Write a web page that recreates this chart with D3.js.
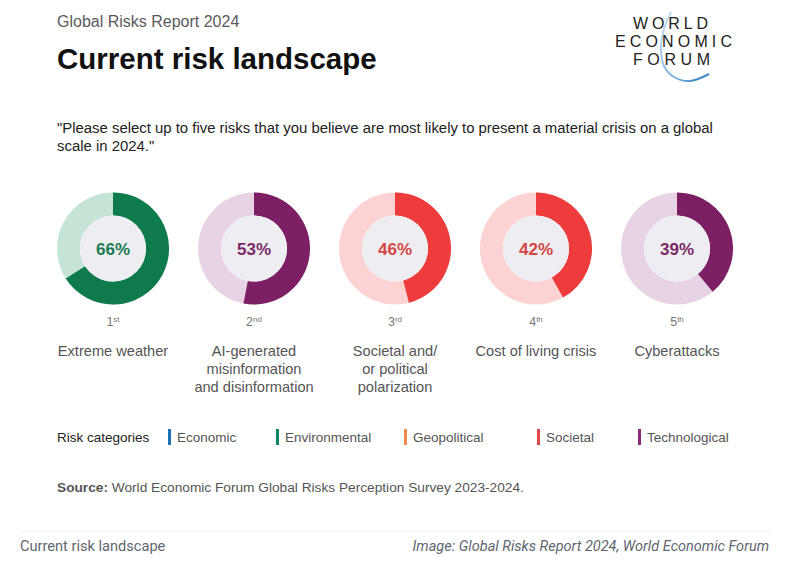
<!DOCTYPE html>
<html>
<head>
<meta charset="utf-8">
<script src="https://cdn.jsdelivr.net/npm/d3@7"></script>
<style>
  html, body { margin: 0; padding: 0; background: #ffffff; }
  svg { display: block; }
</style>
</head>
<body>
<svg id="chart" width="789" height="571"></svg>
<script>
// ---------- data ----------
const riskRanks = [1, 2, 3, 4, 5];
const rankSuffixes = ["st", "nd", "rd", "th", "th"];
const riskValues = [66, 53, 46, 42, 39];
const riskLabels = [
  ["Extreme weather"],
  ["AI-generated", "misinformation", "and disinformation"],
  ["Societal and/", "or political", "polarization"],
  ["Cost of living crisis"],
  ["Cyberattacks"]
];
const riskCategoryOf = ["Environmental", "Technological", "Societal", "Societal", "Technological"];
const legendCategories = ["Economic", "Environmental", "Geopolitical", "Societal", "Technological"];

// ---------- styles ----------
const catColor = {
  Economic: "#1b73b3",
  Environmental: "#0f7a4c",
  Geopolitical: "#ee8a4c",
  Societal: "#ee3b3b",
  Technological: "#7d1f64"
};
const catLight = {
  Environmental: "#c6e4d6",
  Societal: "#fdd2d2",
  Technological: "#e8d3e5"
};
const catText = {
  Environmental: "#1a7a52",
  Societal: "#d44545",
  Technological: "#7a2866"
};
const legendBarColor = {
  Economic: "#1b73b3",
  Environmental: "#138463",
  Geopolitical: "#ee8a4c",
  Societal: "#e0484a",
  Technological: "#8a2a78"
};

const FONT = "'Liberation Sans', Arial, Helvetica, sans-serif";
const svg = d3.select("#chart");

// ---------- header ----------
svg.append("text").attr("x", 57).attr("y", 27)
  .attr("font-family", FONT).attr("font-size", 16).attr("fill", "#5a5a5a")
  .text("Global Risks Report 2024");
svg.append("text").attr("x", 57).attr("y", 69)
  .attr("font-family", FONT).attr("font-size", 29.5).attr("font-weight", "bold").attr("fill", "#111")
  .text("Current risk landscape");

// ---------- WEF logo ----------
const logo = svg.append("g");
const grad = svg.append("defs").append("linearGradient")
  .attr("id", "arcGrad").attr("x1", "0").attr("y1", "0").attr("x2", "1").attr("y2", "1");
grad.append("stop").attr("offset", "0%").attr("stop-color", "#cfe3f3");
grad.append("stop").attr("offset", "60%").attr("stop-color", "#7fb3de");
grad.append("stop").attr("offset", "100%").attr("stop-color", "#2f7fc4");
const arcPts = [[671, 12], [664, 29], [661, 48], [664, 66], [674, 77], [690, 81], [709, 74]];
logo.append("path")
  .attr("d", d3.line().curve(d3.curveCatmullRom)(arcPts))
  .attr("fill", "none").attr("stroke", "url(#arcGrad)").attr("stroke-width", 2);
const logoLines = [["WORLD", 670.5, 29, 75], ["ECONOMIC", 673.5, 47, 117], ["FORUM", 671.5, 65, 77]];
logo.selectAll("text.logo").data(logoLines).join("text")
  .attr("class", "logo")
  .attr("x", d => d[1] - d[3] / 2).attr("y", d => d[2])
  .attr("textLength", d => d[3]).attr("lengthAdjust", "spacing")
  .attr("font-family", FONT).attr("font-size", 16)
  .attr("fill", "#222")
  .text(d => d[0]);

// ---------- question ----------
const question = [
  "\"Please select up to five risks that you believe are most likely to present a material crisis on a global",
  "scale in 2024.\""
];
svg.append("g").selectAll("text").data(question).join("text")
  .attr("x", 57).attr("y", (d, i) => 133 + i * 18)
  .attr("font-family", FONT).attr("font-size", 14.9).attr("fill", "#222")
  .text(d => d);

// ---------- donuts ----------
const x = d3.scalePoint().domain(riskRanks).range([113, 677]);
const angle = d3.scaleLinear().domain([0, 100]).range([0, 2 * Math.PI]);
const cy = 248.5, rOuter = 56, rInner = 33;
const arc = d3.arc().innerRadius(rInner).outerRadius(rOuter);

const donuts = svg.append("g").selectAll("g.donut")
  .data(riskRanks.map((r, i) => ({ rank: r, value: riskValues[i], cat: riskCategoryOf[i], label: riskLabels[i], suf: rankSuffixes[i] })))
  .join("g").attr("class", "donut")
  .attr("transform", d => `translate(${x(d.rank)},${cy})`);

donuts.append("path")
  .attr("d", arc({ startAngle: 0, endAngle: 2 * Math.PI }))
  .attr("fill", d => catLight[d.cat]);
donuts.append("path")
  .attr("d", d => arc({ startAngle: 0, endAngle: angle(d.value) }))
  .attr("fill", d => catColor[d.cat]);
donuts.append("circle").attr("r", rInner).attr("fill", "#eeeef2");
donuts.append("text")
  .attr("text-anchor", "middle").attr("y", 6.5)
  .attr("font-family", FONT).attr("font-size", 17).attr("font-weight", "bold")
  .attr("fill", d => catText[d.cat])
  .text(d => d.value + "%");

// rank
const rankText = donuts.append("text")
  .attr("text-anchor", "middle").attr("y", 326 - cy)
  .attr("font-family", FONT).attr("font-size", 12.5).attr("fill", "#777");
rankText.append("tspan").text(d => d.rank);
rankText.append("tspan").attr("font-size", 8).attr("dy", -4.5).text(d => d.suf);

// labels
donuts.each(function (d) {
  d3.select(this).selectAll("text.lbl").data(d.label).join("text")
    .attr("class", "lbl")
    .attr("text-anchor", "middle")
    .attr("y", (t, i) => 356 - cy + i * 18)
    .attr("font-family", FONT).attr("font-size", 14.6).attr("fill", "#555")
    .text(t => t);
});

// ---------- legend ----------
svg.append("text").attr("x", 57).attr("y", 442)
  .attr("font-family", FONT).attr("font-size", 13.5).attr("fill", "#222")
  .text("Risk categories");
const legendX = d3.scaleOrdinal().domain(legendCategories).range([168, 276, 404, 537, 638]);
const leg = svg.append("g").selectAll("g").data(legendCategories).join("g")
  .attr("transform", d => `translate(${legendX(d)},0)`);
leg.append("rect").attr("x", 0).attr("y", 429).attr("width", 3).attr("height", 16)
  .attr("fill", d => legendBarColor[d]);
leg.append("text").attr("x", 9).attr("y", 442)
  .attr("font-family", FONT).attr("font-size", 13.5).attr("fill", "#555")
  .text(d => d);

// ---------- source ----------
const src = svg.append("text").attr("x", 57).attr("y", 492)
  .attr("font-family", FONT).attr("font-size", 13.7).attr("fill", "#555");
src.append("tspan").attr("font-weight", "bold").text("Source:");
src.append("tspan").text(" World Economic Forum Global Risks Perception Survey 2023-2024.");

// ---------- footer ----------
svg.append("line").attr("x1", 20).attr("x2", 770).attr("y1", 531).attr("y2", 531)
  .attr("stroke", "#eeeeee").attr("stroke-width", 1);
svg.append("text").attr("x", 20).attr("y", 551)
  .attr("font-family", "Roboto, sans-serif").attr("font-size", 14.6).attr("fill", "#5f6670")
  .text("Current risk landscape");
svg.append("text").attr("x", 769).attr("y", 551).attr("text-anchor", "end")
  .attr("font-family", "Roboto, sans-serif").attr("font-size", 14.5).attr("font-style", "italic").attr("fill", "#5f6670")
  .text("Image: Global Risks Report 2024, World Economic Forum");
</script>
</body>
</html>
